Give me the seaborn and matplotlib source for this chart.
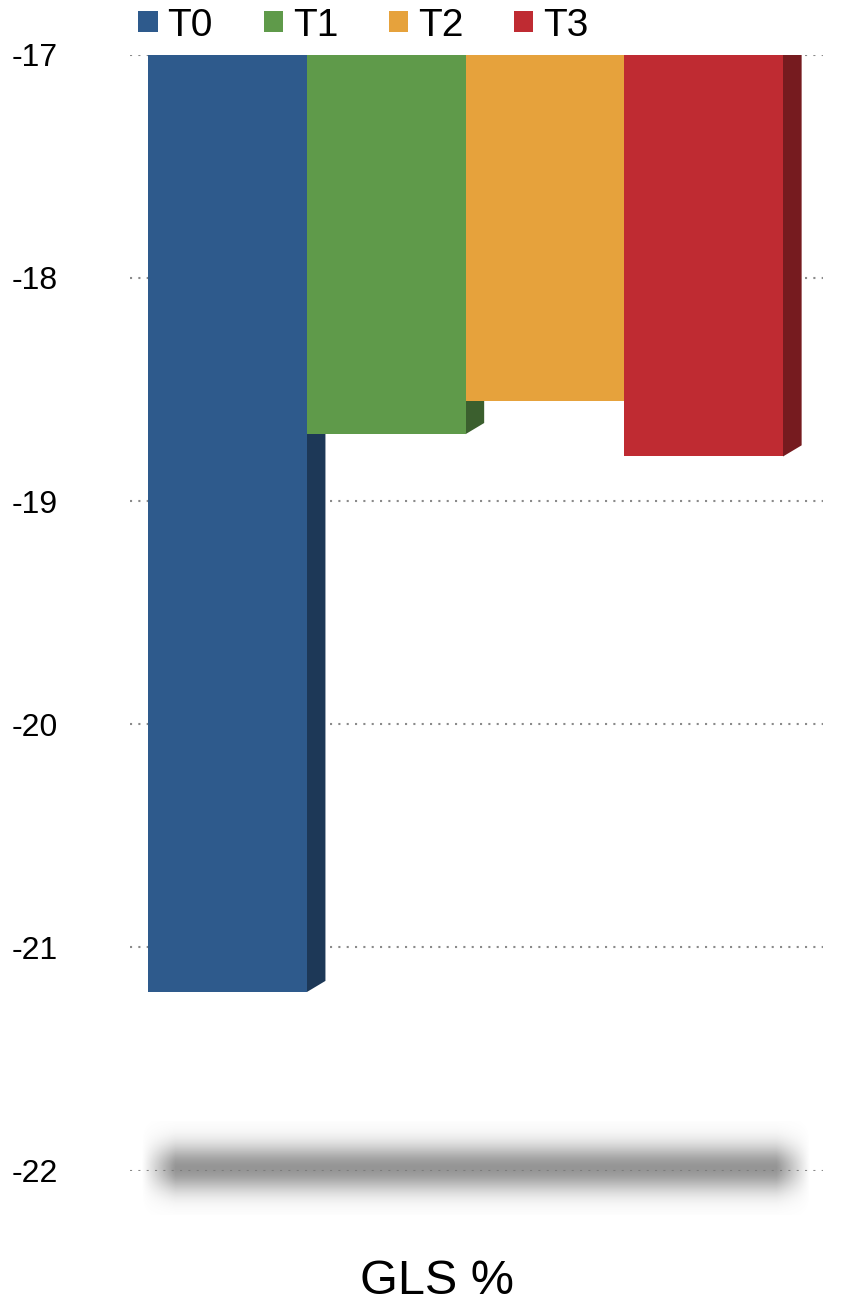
import numpy as np
import pandas as pd
import matplotlib
matplotlib.use("Agg")
import matplotlib.pyplot as plt
import matplotlib.colors as mcolors
from matplotlib.patches import Polygon
import seaborn as sns

# data
groups = ["T0", "T1", "T2", "T3"]
gls_values = [-21.2, -18.7, -18.55, -18.8]
category = "GLS %"
y_ticks = [-22, -21, -20, -19, -18, -17]
colors = ["#2E5A8C", "#5F9A4A", "#E6A23C", "#BF2B32"]

df = pd.DataFrame({"measure": [category] * len(groups), "group": groups, "value": gls_values})

sns.set_theme(style="white")
plt.rcParams["font.family"] = ["Liberation Sans", "DejaVu Sans"]
plt.rcParams["axes.unicode_minus"] = False
plt.rcParams["text.color"] = "black"

fig = plt.figure(figsize=(8.45, 13.05), dpi=100)
ax = fig.add_axes([0.154, 0.103, 0.82, 0.855])

sns.barplot(data=df, x="measure", y="value", hue="group", palette=colors,
            width=0.92, saturation=1, edgecolor="none", ax=ax, zorder=3)

# fake 3D depth: darker side face behind each bar
dx, dy = 0.027, 0.05
for patch, col in zip(ax.patches, colors):
    x0, w = patch.get_x(), patch.get_width()
    bottom = patch.get_y() + patch.get_height()
    top = patch.get_y()
    dark = tuple(c * 0.62 for c in mcolors.to_rgb(col))
    side = Polygon([(x0 + w, bottom), (x0 + w + dx, bottom + dy),
                    (x0 + w + dx, top + dy), (x0 + w, top)],
                   closed=True, facecolor=dark, edgecolor="none", zorder=2.5)
    ax.add_patch(side)

# soft grey floor shadow at the bottom of the axis
yy = np.linspace(-1, 1, 80)[:, None]
xx = np.linspace(-1, 1, 300)[None, :]
alpha = np.exp(-(yy / 0.5) ** 2) * np.clip((1 - np.abs(xx)) * 10, 0, 1) * 0.8
shadow = np.zeros((80, 300, 4))
shadow[..., :3] = 0.48
shadow[..., 3] = alpha
ax.imshow(shadow, extent=(-0.47, 0.5, -22.2, -21.78), aspect="auto",
          zorder=1, clip_on=False, interpolation="bilinear")
ax.set_xlim(-0.486, 0.518)
ax.set_ylim(-22, -17)

ax.set_yticks(y_ticks)
ax.set_yticklabels([str(t) for t in y_ticks])
ax.yaxis.grid(True, linestyle=(0, (1, 3)), color="#8a8a8a", linewidth=1.5, zorder=0)
ax.xaxis.grid(False)
ax.set_axisbelow(True)
sns.despine(ax=ax, left=True, bottom=True)
ax.tick_params(axis="y", length=0, pad=52, labelsize=23, labelcolor="black")
ax.set_xticks([])
ax.set_xlabel(category, fontsize=35, color="black", va="center")
ax.xaxis.set_label_coords(0.443, -0.099)
ax.set_ylabel("")

sns.move_legend(ax, "lower left", bbox_to_anchor=(0.012, 1.01), ncol=4,
                frameon=False, title=None, fontsize=28, handlelength=0.5,
                handleheight=0.46, handletextpad=0.25, columnspacing=1.3,
                borderpad=0, borderaxespad=0, labelcolor="black")

fig.savefig("out.png", dpi=100)
